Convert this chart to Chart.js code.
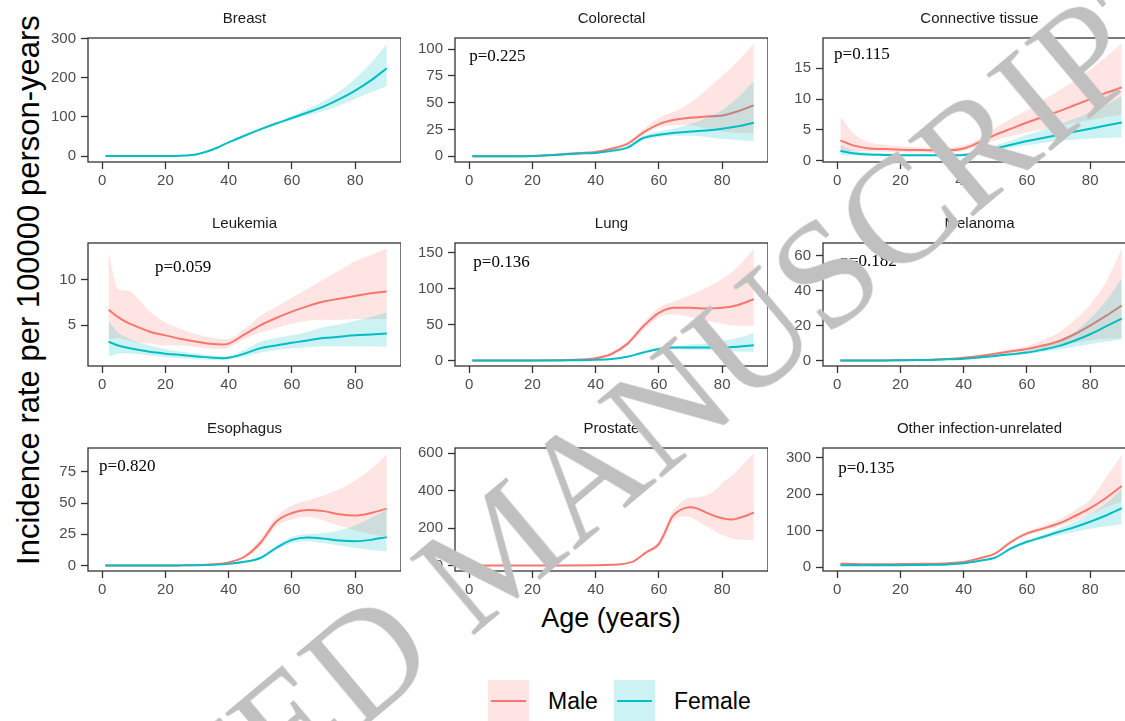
<!DOCTYPE html>
<html>
<head>
<meta charset="utf-8">
<script src="https://cdn.jsdelivr.net/npm/chart.js@4.4.0/dist/chart.umd.min.js"></script>
<style>
  html, body { margin: 0; padding: 0; width: 1125px; height: 721px; overflow: hidden; background: #fff; }
  body { position: relative; font-family: "Liberation Sans", Arial, sans-serif; }
  canvas.panel { position: absolute; }
  .ytitle { position: absolute; left: 29px; top: 290px; transform: translate(-50%, -50%) rotate(-90deg);
            font-size: 31px; white-space: nowrap; color: #000; }
  .xtitle { position: absolute; left: 611px; top: 618px; transform: translate(-50%, -50%);
            font-size: 27px; white-space: nowrap; color: #000; }
  .key { position: absolute; top: 680px; width: 41px; height: 41px; }
  .key span { position: absolute; left: 3px; right: 3px; top: 20px; height: 2px; }
  .klabel { position: absolute; top: 701px; transform: translateY(-50%); font-size: 23px; color: #000; }
  .stamp { position: absolute; left: -242px; top: 1070px; transform-origin: 0 0; transform: rotate(-40deg);
           font-family: "Liberation Serif", "Times New Roman", serif; font-size: 152px; line-height: 1;
           white-space: nowrap; color: rgb(192,192,192); pointer-events: none; z-index: 5; }
</style>
</head>
<body>
<div class="ytitle">Incidence rate per 100000 person-years</div>
<div class="xtitle">Age (years)</div>
<div class="key" style="left:488px;background:rgba(248,118,109,0.2)"><span style="background:#F8766D"></span></div>
<div class="klabel" style="left:548px">Male</div>
<div class="key" style="left:614px;background:rgba(0,191,196,0.2)"><span style="background:#00BFC4"></span></div>
<div class="klabel" style="left:674px">Female</div>
<div class="stamp">ACCEPTED MANUSCRIPT</div>

<script>
// ages (years)
const ageStd = [1, 5, 10, 15, 20, 25, 30, 35, 40, 45, 50, 55, 60, 65, 70, 75, 80, 85, 90];
const ageLeuk = [2, 5, 8, 10, 15, 20, 25, 30, 35, 38, 40, 45, 50, 55, 60, 65, 70, 75, 80, 85, 90];
const ageProst = [1, 10, 20, 30, 40, 45, 48, 50, 52, 54, 56, 58, 60, 62, 64, 66, 68, 70, 72, 75, 78, 80, 83, 85, 88, 90];
const xTicks = [0, 20, 40, 60, 80];

// Breast (female only)
const breastF   = [0, 0, 0, 0, 0, 1, 5, 17, 35, 52, 68, 83, 97, 111, 126, 145, 167, 193, 224];
const breastFLo = [0, 0, 0, 0, 0, 0.5, 4, 15, 32, 49, 65, 80, 92, 104, 115, 129, 146, 163, 178];
const breastFHi = [0.5, 0.5, 0.5, 0.5, 1, 2, 6, 19, 38, 55, 71, 87, 102, 120, 140, 165, 197, 237, 285];

// Colorectal
const colM   = [0, 0, 0, 0, 0.3, 1, 2, 3, 4, 7, 11.5, 22, 30, 34, 36, 37, 38, 42, 47.5];
const colMLo = [0, 0, 0, 0, 0.1, 0.5, 1.5, 2.5, 3.3, 6, 10, 20, 27, 29, 29, 26, 23, 22, 21.5];
const colMHi = [0.3, 0.3, 0.3, 0.3, 0.6, 1.5, 2.7, 4, 5, 8.5, 13.5, 25, 36, 42, 50, 62, 75, 89, 105];
const colF   = [0, 0, 0, 0, 0.2, 0.8, 1.6, 2.5, 3, 5, 8, 17, 20, 22, 23, 24, 25.6, 28, 31.3];
const colFLo = [0, 0, 0, 0, 0.1, 0.5, 1.2, 2, 2.5, 4, 7, 15, 18, 19, 19, 18, 16, 15, 14];
const colFHi = [0.3, 0.3, 0.3, 0.3, 0.4, 1.1, 2, 3, 3.6, 6, 9, 19, 23, 26, 30, 36, 43, 55, 70];

// Connective tissue
const conM   = [3.3, 2.5, 2.0, 1.9, 1.8, 1.75, 1.7, 1.7, 2.0, 3.0, 4.2, 5.2, 6.2, 7.1, 8.0, 9.0, 10.0, 11.0, 11.9];
const conMLo = [1.5, 1.6, 1.5, 1.45, 1.4, 1.35, 1.3, 1.3, 1.6, 2.5, 3.3, 4.0, 4.6, 5.1, 5.6, 6.1, 6.6, 7.1, 7.5];
const conMHi = [7.2, 4.5, 3.0, 2.6, 2.3, 2.2, 2.1, 2.1, 2.5, 3.6, 5.3, 6.8, 8.2, 9.8, 11.3, 13.0, 14.8, 16.8, 19.0];
const conF   = [1.6, 1.2, 1.0, 0.95, 0.9, 0.9, 0.88, 0.88, 0.95, 1.3, 2.0, 2.6, 3.2, 3.7, 4.2, 4.7, 5.2, 5.7, 6.2];
const conFLo = [0.9, 0.85, 0.8, 0.78, 0.75, 0.72, 0.7, 0.7, 0.78, 1.1, 1.6, 2.1, 2.5, 2.9, 3.2, 3.4, 3.6, 3.7, 3.8];
const conFHi = [2.5, 1.7, 1.3, 1.2, 1.1, 1.1, 1.1, 1.1, 1.2, 1.6, 2.5, 3.3, 4.2, 5.0, 5.8, 6.8, 7.8, 9.0, 10.5];

// Leukemia
const leuM   = [6.7, 5.9, 5.3, 5.0, 4.3, 3.9, 3.5, 3.2, 2.95, 2.9, 3.0, 4.0, 5.0, 5.8, 6.5, 7.1, 7.6, 7.9, 8.2, 8.5, 8.7];
const leuMLo = [3.5, 3.6, 3.4, 3.2, 3.0, 2.8, 2.8, 2.6, 2.45, 2.4, 2.6, 3.5, 4.2, 4.7, 5.2, 5.5, 5.6, 5.6, 5.7, 5.7, 5.7];
const leuMHi = [13.0, 9.0, 8.8, 8.4, 6.5, 5.3, 4.6, 4.0, 3.6, 3.5, 3.5, 4.6, 6.0, 7.0, 8.0, 9.0, 10.0, 11.0, 12.0, 12.7, 13.4];
const leuF   = [3.2, 2.8, 2.55, 2.4, 2.1, 1.9, 1.75, 1.6, 1.45, 1.4, 1.45, 1.9, 2.5, 2.8, 3.1, 3.35, 3.6, 3.75, 3.9, 4.0, 4.1];
const leuFLo = [1.6, 1.9, 1.95, 1.9, 1.7, 1.5, 1.4, 1.3, 1.2, 1.2, 1.25, 1.6, 2.0, 2.3, 2.5, 2.6, 2.7, 2.7, 2.7, 2.7, 2.6];
const leuFHi = [5.5, 4.2, 3.6, 3.3, 2.8, 2.4, 2.1, 1.9, 1.7, 1.6, 1.65, 2.3, 3.2, 3.6, 3.9, 4.3, 4.8, 5.1, 5.5, 5.9, 6.4];

// Lung
const lunM   = [0, 0, 0, 0, 0, 0.2, 0.5, 1.2, 3, 9, 23, 47, 66, 73, 73, 72, 73, 77, 85];
const lunMLo = [0, 0, 0, 0, 0, 0.1, 0.3, 0.9, 2.4, 7, 20, 42, 60, 64, 60, 55, 51, 48, 48];
const lunMHi = [0.2, 0.2, 0.2, 0.2, 0.2, 0.4, 0.8, 1.6, 3.8, 11, 26, 52, 73, 82, 91, 101, 113, 130, 155];
const lunF   = [0, 0, 0, 0, 0, 0, 0.1, 0.3, 0.8, 2, 5, 11, 16, 18, 18, 18, 18, 19, 21];
const lunFLo = [0, 0, 0, 0, 0, 0, 0, 0.2, 0.6, 1.6, 4, 9.5, 14.5, 15.5, 15, 14.5, 13.5, 12.5, 12];
const lunFHi = [0.1, 0.1, 0.1, 0.1, 0.1, 0.1, 0.2, 0.5, 1.1, 2.5, 6, 12.5, 18, 20, 22, 24, 27, 31, 38];

// Melanoma
const melM   = [0, 0, 0, 0, 0.1, 0.2, 0.4, 0.8, 1.5, 2.5, 3.8, 5.2, 6.5, 8.5, 11, 15, 20, 25.5, 31.5];
const melMLo = [0, 0, 0, 0, 0, 0.1, 0.3, 0.6, 1.2, 2.1, 3.2, 4.3, 5.3, 6.6, 8.2, 10, 11.5, 12.5, 13];
const melMHi = [0.2, 0.2, 0.2, 0.2, 0.3, 0.4, 0.6, 1.1, 1.9, 3, 4.6, 6.4, 8.2, 11.5, 16, 23, 32, 45, 64];
const melF   = [0, 0, 0, 0, 0.1, 0.2, 0.3, 0.6, 1, 1.7, 2.6, 3.5, 4.5, 6.2, 8.2, 11.3, 15, 19.5, 24];
const melFLo = [0, 0, 0, 0, 0, 0.1, 0.2, 0.5, 0.8, 1.4, 2.2, 2.9, 3.7, 4.8, 6.2, 7.8, 9.3, 10.8, 12];
const melFHi = [0.2, 0.2, 0.2, 0.2, 0.3, 0.4, 0.5, 0.8, 1.3, 2.1, 3.2, 4.3, 5.6, 8, 11, 16, 24, 34, 47];

// Esophagus
const esoM   = [0, 0, 0, 0, 0, 0.1, 0.3, 1, 2.5, 7, 18, 35, 42, 44.5, 43.5, 41, 40, 42, 45.5];
const esoMLo = [0, 0, 0, 0, 0, 0, 0.2, 0.7, 2, 6, 15, 31, 37, 39, 36, 32, 28, 25, 23];
const esoMHi = [0.2, 0.2, 0.2, 0.2, 0.2, 0.3, 0.5, 1.3, 3, 8.5, 21, 39, 48, 52, 56, 61, 68, 77, 89];
const esoF   = [0, 0, 0, 0, 0, 0.1, 0.2, 0.5, 1.3, 3, 6, 14, 20.5, 22.5, 21.5, 20, 19.5, 20.5, 22.7];
const esoFLo = [0, 0, 0, 0, 0, 0, 0.1, 0.3, 1, 2.4, 5, 12, 18, 19.5, 18, 16, 14, 12.5, 11.5];
const esoFHi = [0.2, 0.2, 0.2, 0.2, 0.2, 0.2, 0.3, 0.7, 1.6, 3.6, 7, 16, 23, 25, 26, 28, 32, 38, 45];

// Prostate (male only)
const proM   = [0, 0, 0, 0, 1, 3, 6, 12, 22, 45, 70, 88, 115, 180, 255, 288, 305, 311, 305, 282, 262, 252, 245, 252, 268, 283];
const proMLo = [0, 0, 0, 0, 0.7, 2.4, 5, 10, 19, 40, 62, 78, 100, 160, 230, 255, 262, 258, 240, 210, 180, 163, 145, 138, 136, 135];
const proMHi = [0.5, 0.5, 0.5, 0.5, 1.3, 3.6, 7, 14, 25, 50, 78, 98, 130, 200, 280, 320, 350, 362, 365, 375, 405, 440, 480, 510, 565, 598];

// Other infection-unrelated
const othM   = [10, 9, 8.5, 8.5, 9, 9.5, 10, 11.5, 15, 25, 38, 70, 93, 106, 120, 140, 162, 190, 223];
const othMLo = [8, 8, 7.5, 7.5, 8, 8.5, 9, 10.5, 14, 23, 35, 66, 88, 100, 112, 127, 145, 165, 180];
const othMHi = [13, 11, 10, 10, 10.5, 11, 11.5, 13, 17, 27, 41, 74, 98, 113, 130, 155, 185, 245, 310];
const othF   = [6, 6, 6, 6, 6, 6.5, 7, 8, 11, 18, 27, 52, 70, 83, 97, 110, 125, 142, 162];
const othFLo = [4.5, 4.5, 4.5, 4.5, 4.5, 5, 5.5, 6.5, 9.5, 16, 25, 49, 66, 78, 88, 97, 106, 112, 118];
const othFHi = [8, 7.5, 7.5, 7.5, 7.5, 8, 8.5, 9.5, 12.5, 20, 29, 55, 74, 88, 106, 124, 146, 175, 215];

const panels = [
  { title: 'Breast', age: ageStd, female: [breastF, breastFLo, breastFHi], yMin: -15, yMax: 301, yTicks: [0, 100, 200, 300] },
  { title: 'Colorectal', age: ageStd, male: [colM, colMLo, colMHi], female: [colF, colFLo, colFHi], yMin: -5.4, yMax: 110.4, yTicks: [0, 25, 50, 75, 100], p: ['p=0.225', 0, 93] },
  { title: 'Connective tissue', age: ageStd, male: [conM, conMLo, conMHi], female: [conF, conFLo, conFHi], yMin: -0.2, yMax: 19.9, yTicks: [0, 5, 10, 15], p: ['p=0.115', -1, 17.2] },
  { title: 'Leukemia', age: ageLeuk, male: [leuM, leuMLo, leuMHi], female: [leuF, leuFLo, leuFHi], yMin: 0.55, yMax: 14, yTicks: [5, 10], p: ['p=0.059', 16.7, 11.3] },
  { title: 'Lung', age: ageStd, male: [lunM, lunMLo, lunMHi], female: [lunF, lunFLo, lunFHi], yMin: -7.7, yMax: 163, yTicks: [0, 50, 100, 150], p: ['p=0.136', 1.3, 135.7] },
  { title: 'Melanoma', age: ageStd, male: [melM, melMLo, melMHi], female: [melF, melFLo, melFHi], yMin: -3.2, yMax: 67.3, yTicks: [0, 20, 40, 60], p: ['p=0.182', 1, 56.6] },
  { title: 'Esophagus', age: ageStd, male: [esoM, esoMLo, esoMHi], female: [esoF, esoFLo, esoFHi], yMin: -4.4, yMax: 94, yTicks: [0, 25, 50, 75], p: ['p=0.820', -1, 78.8] },
  { title: 'Prostate', age: ageProst, male: [proM, proMLo, proMHi], yMin: -30, yMax: 628, yTicks: [0, 200, 400, 600] },
  { title: 'Other infection-unrelated', age: ageStd, male: [othM, othMLo, othMHi], female: [othF, othFLo, othFHi], yMin: -10, yMax: 327, yTicks: [0, 100, 200, 300], p: ['p=0.135', 0.3, 272] }
];

const colLeft = [40, 407, 775];
const rowTop = [0, 205, 410];
const plotH = [124, 123, 123];
const plotW = 313;
const yAxisW = 48, xAxisH = 30, titleH = 38;

const MALE = '#F8766D', FEMALE = '#00BFC4';
const MALE_FILL = 'rgba(248,118,109,0.2)', FEMALE_FILL = 'rgba(0,191,196,0.2)';
const tickFont = { family: '"Liberation Sans", Arial, sans-serif', size: 15 };

function pts(ages, vals) {
  return ages.map((a, i) => ({ x: a, y: vals[i] }));
}

function sexSets(ages, series, color, fillColor, order) {
  const [line, lo, hi] = series;
  return [
    { data: pts(ages, hi), fill: '+1', backgroundColor: fillColor, borderColor: 'rgba(0,0,0,0)', borderWidth: 0, pointRadius: 0, order: order + 1 },
    { data: pts(ages, lo), fill: false, borderColor: 'rgba(0,0,0,0)', borderWidth: 0, pointRadius: 0, order: order + 1 },
    { data: pts(ages, line), fill: false, borderColor: color, borderWidth: 2, pointRadius: 0, order: order }
  ];
}

const panelBorder = {
  id: 'panelBorder',
  afterDatasetsDraw(chart) {
    const { ctx, chartArea: a } = chart;
    ctx.save();
    ctx.strokeStyle = '#333';
    ctx.lineWidth = 1.3;
    ctx.strokeRect(a.left, a.top, a.width, a.height);
    ctx.restore();
  }
};

const pLabel = {
  id: 'pLabel',
  afterDraw(chart, args, opts) {
    if (!opts.text) return;
    const { ctx, scales } = chart;
    ctx.save();
    ctx.font = '17px "Liberation Serif", "Times New Roman", serif';
    ctx.fillStyle = '#000';
    ctx.textAlign = 'left';
    ctx.textBaseline = 'middle';
    ctx.fillText(opts.text, scales.x.getPixelForValue(opts.x), scales.y.getPixelForValue(opts.y));
    ctx.restore();
  }
};

panels.forEach((p, i) => {
  const row = Math.floor(i / 3), col = i % 3;
  const canvas = document.createElement('canvas');
  canvas.className = 'panel';
  canvas.width = yAxisW + plotW;
  canvas.height = titleH + plotH[row] + xAxisH;
  canvas.style.left = colLeft[col] + 'px';
  canvas.style.top = rowTop[row] + 'px';
  document.body.insertBefore(canvas, document.querySelector('.stamp'));

  let datasets = [];
  if (p.male) datasets = datasets.concat(sexSets(p.age, p.male, MALE, MALE_FILL, 3));
  if (p.female) datasets = datasets.concat(sexSets(p.age, p.female, FEMALE, FEMALE_FILL, 1));

  new Chart(canvas.getContext('2d'), {
    type: 'line',
    data: { datasets },
    options: {
      responsive: false,
      animation: false,
      events: [],
      layout: { padding: 0 },
      elements: { line: { cubicInterpolationMode: 'monotone' } },
      plugins: {
        legend: { display: false },
        tooltip: { enabled: false },
        title: {
          display: true, text: p.title, fullSize: false, color: '#1a1a1a',
          font: { family: tickFont.family, size: 15, weight: 'normal' },
          padding: { top: 10, bottom: 10 }
        },
        pLabel: p.p ? { text: p.p[0], x: p.p[1], y: p.p[2] } : {}
      },
      scales: {
        x: {
          type: 'linear', min: -4.5, max: 94.5,
          afterBuildTicks: s => { s.ticks = xTicks.map(v => ({ value: v })); },
          afterFit: s => { s.height = xAxisH; },
          grid: { drawOnChartArea: false, tickLength: 7, tickColor: '#333', tickWidth: 1.3 },
          border: { display: false },
          ticks: { color: '#4d4d4d', font: tickFont, padding: 3, maxRotation: 0 }
        },
        y: {
          type: 'linear', min: p.yMin, max: p.yMax,
          afterBuildTicks: s => { s.ticks = p.yTicks.map(v => ({ value: v })); },
          afterFit: s => { s.width = yAxisW; },
          grid: { drawOnChartArea: false, tickLength: 7, tickColor: '#333', tickWidth: 1.3 },
          border: { display: false },
          ticks: { color: '#4d4d4d', font: tickFont, padding: 5 }
        }
      }
    },
    plugins: [panelBorder, pLabel]
  });
});
</script>
</body>
</html>
